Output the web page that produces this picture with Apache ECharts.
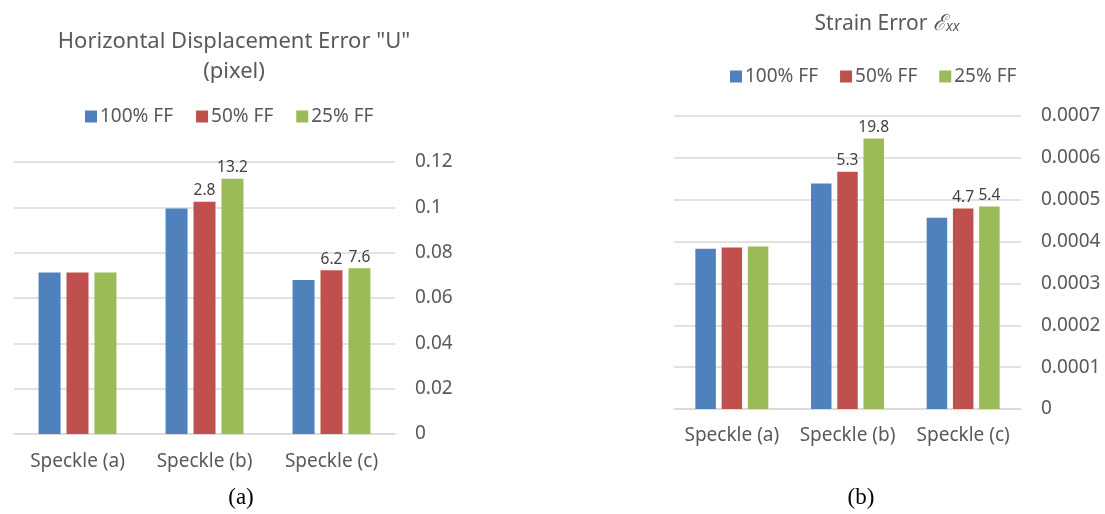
<!DOCTYPE html>
<html><head><meta charset="utf-8">
<script src="https://cdn.jsdelivr.net/npm/echarts@6/dist/echarts.min.js"></script>
<style>html,body{margin:0;padding:0;background:#fff}#c{width:1105px;height:514px}</style>
</head><body><div id="c"></div>
<script>
const categories = ['Speckle (a)', 'Speckle (b)', 'Speckle (c)'];
const seriesNames = ['100% FF', '50% FF', '25% FF'];
// Chart (a): horizontal displacement error U (pixel)
const dispFF100 = [0.0712, 0.0995, 0.0679];
const dispFF50  = [0.0712, 0.1025, 0.0722];
const dispFF25  = [0.0712, 0.1126, 0.0731];
const dispLbl100 = [null, null, null];
const dispLbl50  = [null, '2.8', '6.2'];
const dispLbl25  = [null, '13.2', '7.6'];
const dispTicks = ['0', '0.02', '0.04', '0.06', '0.08', '0.1', '0.12'];
// Chart (b): strain error exx
const strainFF100 = [0.000383, 0.000539, 0.000457];
const strainFF50  = [0.000386, 0.000567, 0.000479];
const strainFF25  = [0.000388, 0.000646, 0.000484];
const strainLbl100 = [null, null, null];
const strainLbl50  = [null, '5.3', '4.7'];
const strainLbl25  = [null, '19.8', '5.4'];
const strainTicks = ['0', '0.0001', '0.0002', '0.0003', '0.0004', '0.0005', '0.0006', '0.0007'];

const colors = ['#4F81BD', '#C0504D', '#9BBB59'];
const FONT = 'Noto Sans';
const GRAY = '#595959';

function tickFmt(ticks, step) {
  return v => { const i = Math.round(v / step); return ticks[i] !== undefined ? ticks[i] : ''; };
}
function mkSeries(name, data, lbls, idx, color, bw, gap) {
  return {
    type: 'bar', name, data, xAxisIndex: idx, yAxisIndex: idx,
    barWidth: bw, barGap: gap,
    itemStyle: { color },
    label: { show: true, position: 'top', distance: 3, color: '#404040', fontFamily: FONT, fontSize: 15.5,
      formatter: p => lbls[p.dataIndex] == null ? '' : lbls[p.dataIndex] }
  };
}
const xLabel = { color: GRAY, fontFamily: FONT, fontSize: 19, interval: 0, hideOverlap: false };
const chart = echarts.init(document.getElementById('c'));
chart.setOption({
  animation: false,
  color: colors,
  textStyle: { fontFamily: FONT },
  title: [
    { text: 'Horizontal Displacement Error "U"\n(pixel)', left: 229, top: 22, textAlign: 'center',
      textStyle: { fontFamily: FONT, fontSize: 22, fontWeight: 'normal', color: GRAY, lineHeight: 30 } },
    { text: 'Strain Error {e|ℰ}{s|xx}', left: 882, top: 8, textAlign: 'center',
      textStyle: { fontFamily: FONT, fontSize: 21, fontWeight: 'normal', color: GRAY,
        rich: { e: { fontFamily: 'DejaVu Serif', fontStyle: 'italic', fontSize: 22, color: GRAY },
                s: { fontFamily: FONT, fontStyle: 'italic', fontSize: 14, color: GRAY, padding: [6, 0, 0, 0] } } } },
    { text: '(a)', left: 236, top: 481, textAlign: 'center',
      textStyle: { fontFamily: 'Liberation Serif', fontSize: 23, fontWeight: 'normal', color: '#000' } },
    { text: '(b)', left: 856, top: 481, textAlign: 'center',
      textStyle: { fontFamily: 'Liberation Serif', fontSize: 23, fontWeight: 'normal', color: '#000' } }
  ],
  legend: [
    { data: seriesNames, left: 80, top: 102, itemWidth: 12, itemHeight: 12, itemGap: 23, icon: 'rect',
      textStyle: { fontFamily: FONT, fontSize: 19, color: GRAY, padding: [0, 0, 0, -2] } },
    { data: seriesNames, left: 725, top: 62, itemWidth: 12, itemHeight: 12, itemGap: 22, icon: 'rect',
      textStyle: { fontFamily: FONT, fontSize: 19, color: GRAY, padding: [0, 0, 0, -2] } }
  ],
  grid: [
    { left: 14, top: 162, width: 381, height: 272 },
    { left: 674, top: 116, width: 347, height: 293 }
  ],
  xAxis: [
    { type: 'category', gridIndex: 0, data: categories,
      axisLine: { lineStyle: { color: '#d9d9d9', width: 1.5 } }, axisTick: { show: false },
      axisLabel: Object.assign({ margin: 18 }, xLabel) },
    { type: 'category', gridIndex: 1, data: categories,
      axisLine: { lineStyle: { color: '#d9d9d9', width: 1.5 } }, axisTick: { show: false },
      axisLabel: Object.assign({ margin: 17 }, xLabel) }
  ],
  yAxis: [
    { type: 'value', gridIndex: 0, position: 'right', min: 0, max: 0.12, interval: 0.02,
      axisLine: { show: false }, axisTick: { show: false },
      splitLine: { lineStyle: { color: '#d9d9d9', width: 1.5 } },
      axisLabel: { color: GRAY, fontFamily: FONT, fontSize: 19, margin: 20, formatter: tickFmt(dispTicks, 0.02) } },
    { type: 'value', gridIndex: 1, position: 'right', min: 0, max: 0.0007, interval: 0.0001,
      axisLine: { show: false }, axisTick: { show: false },
      splitLine: { lineStyle: { color: '#d9d9d9', width: 1.5 } },
      axisLabel: { color: GRAY, fontFamily: FONT, fontSize: 19, margin: 20, formatter: tickFmt(strainTicks, 0.0001) } }
  ],
  series: [
    mkSeries(seriesNames[0], dispFF100, dispLbl100, 0, colors[0], 22, '27%'),
    mkSeries(seriesNames[1], dispFF50, dispLbl50, 0, colors[1], 22, '27%'),
    mkSeries(seriesNames[2], dispFF25, dispLbl25, 0, colors[2], 22, '27%'),
    mkSeries(seriesNames[0], strainFF100, strainLbl100, 1, colors[0], 20.5, '28%'),
    mkSeries(seriesNames[1], strainFF50, strainLbl50, 1, colors[1], 20.5, '28%'),
    mkSeries(seriesNames[2], strainFF25, strainLbl25, 1, colors[2], 20.5, '28%')
  ]
});
</script></body></html>
